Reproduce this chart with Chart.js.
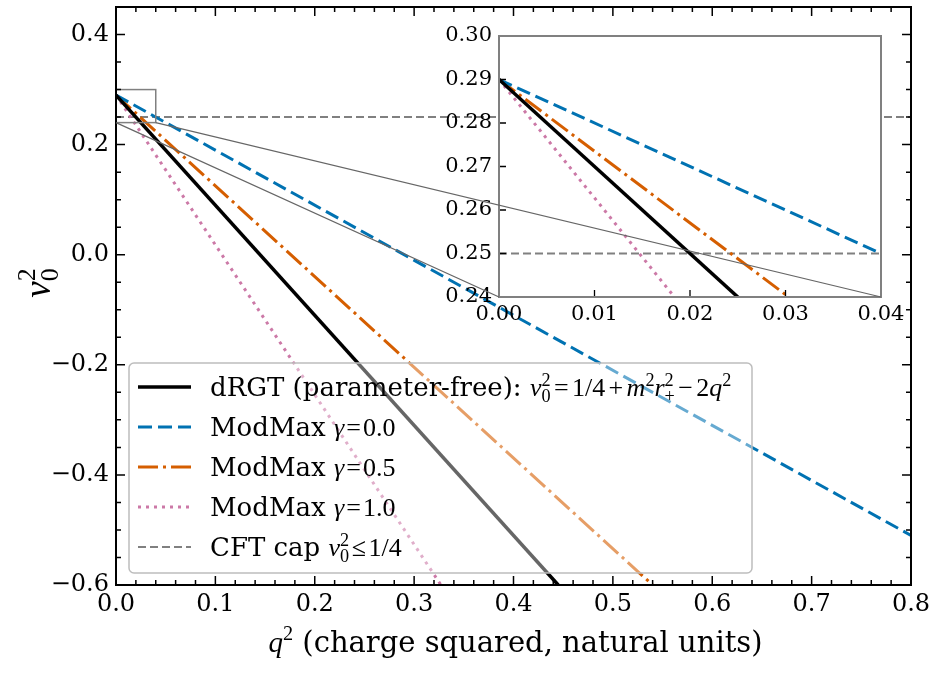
<!DOCTYPE html>
<html>
<head>
<meta charset="utf-8">
<script src="https://cdn.jsdelivr.net/npm/chart.js@4.4.1/dist/chart.umd.min.js"></script>
<style>
  body { margin: 0; background: #fff; }
  #wrap { position: relative; width: 934px; height: 697px; }
  #wrap canvas { position: absolute; left: 0; top: 0; }
</style>
</head>
<body>
<div id="wrap">
  <canvas id="main" width="934" height="697"></canvas>
  <canvas id="inset" width="934" height="697"></canvas>
</div>
<script>
// --- data (each curve is a straight line, so two end points) ---
const drgtQ = [0.0, 0.445];
const drgtNu = [0.29, -0.60];
const mm00Q = [0.0, 0.80];
const mm00Nu = [0.29, -0.51];
const mm05Q = [0.0, 0.54];
const mm05Nu = [0.29, -0.60];
const mm10Q = [0.0, 0.327];
const mm10Nu = [0.29, -0.60];
const cftQ = [0.0, 0.80];
const cftNu = [0.25, 0.25];

// axes
const mainXTicks = [0.0, 0.1, 0.2, 0.3, 0.4, 0.5, 0.6, 0.7, 0.8];
const mainYTicks = [-0.6, -0.4, -0.2, 0.0, 0.2, 0.4];
const insetXTicks = [0.0, 0.01, 0.02, 0.03, 0.04];
const insetYTicks = [0.24, 0.25, 0.26, 0.27, 0.28, 0.29, 0.30];
const zoomQ = [0.0, 0.04];
const zoomNu = [0.24, 0.30];

const SERIF = '"DejaVu Serif", serif';
const MATH = '"Liberation Serif", serif';   // stix-like math font

const styles = [
  { color: '#000000', width: 3.5, dash: [] },
  { color: '#0072B2', width: 3, dash: [14, 6] },
  { color: '#D55E00', width: 3, dash: [20, 5, 3, 5] },
  { color: '#CC79A7', width: 3, dash: [3, 5] },
  { color: '#808080', width: 2, dash: [8, 4] }
];

function pts(q, nu) {
  return q.map((v, i) => ({ x: v, y: nu[i] }));
}

function makeDatasets() {
  const series = [[drgtQ, drgtNu], [mm00Q, mm00Nu], [mm05Q, mm05Nu], [mm10Q, mm10Nu], [cftQ, cftNu]];
  return series.map((s, i) => ({
    data: pts(s[0], s[1]),
    showLine: true,
    borderColor: styles[i].color,
    borderWidth: styles[i].width,
    borderDash: styles[i].dash,
    borderCapStyle: 'butt',
    pointRadius: 0,
    fill: false
  }));
}

function fmt(v, d) {
  const s = Math.abs(v).toFixed(d);
  return v < -1e-9 ? '\u2212' + s : s;
}

// rich text: parts {t, m: math font, i: italic, s: 'sup'|'sub', stack: same x as previous, pad: em each side}
function drawRich(ctx, parts, x, y, size, draw) {
  let cx = x, prevStart = x;
  for (const p of parts) {
    const sz = p.s ? size * 0.7 : size;
    ctx.font = (p.i ? 'italic ' : '') + sz + 'px ' + (p.m ? MATH : SERIF);
    const w = ctx.measureText(p.t).width;
    const pad = (p.pad || 0) * size;
    const px = p.stack ? prevStart : cx + pad;
    const dy = p.s === 'sup' ? -0.4 * size : (p.s === 'sub' ? 0.22 * size : 0);
    if (draw) ctx.fillText(p.t, px, y + dy);
    if (p.stack) {
      cx = Math.max(cx, px + w);
    } else {
      prevStart = px;
      cx = px + w + pad;
    }
  }
  return cx - x;
}

const nu0sq = [{ t: '\u03bd', m: 1, i: 1 }, { t: '0', m: 1, s: 'sub' }, { t: '2', m: 1, s: 'sup', stack: 1 }];
const gammaEq = v => [{ t: 'ModMax ' }, { t: '\u03b3', m: 1, i: 1 }, { t: '=', m: 1, pad: 0.08 }, { t: v, m: 1 }];

const legendRows = [
  [{ t: 'dRGT (parameter-free): ' }, ...nu0sq,
   { t: '=', m: 1, pad: 0.13 }, { t: '1/4', m: 1 }, { t: '+', m: 1, pad: 0.13 }, { t: 'm', m: 1, i: 1 }, { t: '2', m: 1, s: 'sup' },
   { t: 'r', m: 1, i: 1 }, { t: '+', m: 1, s: 'sub' }, { t: '2', m: 1, s: 'sup', stack: 1 },
   { t: '\u2212', m: 1, pad: 0.13 }, { t: '2', m: 1 }, { t: 'q', m: 1, i: 1 }, { t: '2', m: 1, s: 'sup' }],
  gammaEq('0.0'),
  gammaEq('0.5'),
  gammaEq('1.0'),
  [{ t: 'CFT cap ' }, ...nu0sq, { t: '\u2264', m: 1, pad: 0.1 }, { t: '1/4', m: 1 }]
];

function roundRect(ctx, x, y, w, h, r) {
  ctx.beginPath();
  ctx.moveTo(x + r, y);
  ctx.arcTo(x + w, y, x + w, y + h, r);
  ctx.arcTo(x + w, y + h, x, y + h, r);
  ctx.arcTo(x, y + h, x, y, r);
  ctx.arcTo(x, y, x + w, y, r);
  ctx.closePath();
}

function drawLegend(chart) {
  const ctx = chart.ctx;
  ctx.save();
  roundRect(ctx, 129, 363, 623, 210, 5);
  ctx.fillStyle = 'rgba(255,255,255,0.4)';
  ctx.fill();
  ctx.strokeStyle = '#bdbdbd';
  ctx.lineWidth = 1.5;
  ctx.stroke();
  chart.data.datasets.forEach((ds, i) => {
    const yy = 387 + i * 40;
    ctx.beginPath();
    ctx.setLineDash(ds.borderDash);
    ctx.lineCap = 'butt';
    ctx.strokeStyle = ds.borderColor;
    ctx.lineWidth = ds.borderWidth;
    ctx.moveTo(138, yy);
    ctx.lineTo(191, yy);
    ctx.stroke();
    ctx.setLineDash([]);
    ctx.fillStyle = '#000';
    ctx.textBaseline = 'alphabetic';
    ctx.textAlign = 'left';
    drawRich(ctx, legendRows[i], 210, yy + 9, 26, true);
  });
  ctx.restore();
}

function tickLines(ctx, list) {
  ctx.beginPath();
  list.forEach(l => { ctx.moveTo(l[0], l[1]); ctx.lineTo(l[2], l[3]); });
  ctx.stroke();
}

const mainDecor = {
  id: 'mainDecor',
  afterDatasetsDraw(chart) {
    const { ctx, scales: { x, y } } = chart;
    ctx.save();
    ctx.strokeStyle = '#808080';
    ctx.lineWidth = 1.5;
    const x0 = x.getPixelForValue(zoomQ[0]), x1 = x.getPixelForValue(zoomQ[1]);
    const y0 = y.getPixelForValue(zoomNu[0]), y1 = y.getPixelForValue(zoomNu[1]);
    ctx.strokeRect(x0, y1, x1 - x0, y0 - y1);
    ctx.restore();
    drawLegend(chart);
  },
  afterDraw(chart) {
    const { ctx, chartArea: a, scales: { x, y } } = chart;
    ctx.save();
    ctx.strokeStyle = '#000';
    ctx.lineWidth = 1.5;
    const ticks = [];
    mainXTicks.forEach(v => {
      const p = x.getPixelForValue(v);
      ticks.push([p, a.bottom, p, a.bottom - 9], [p, a.top, p, a.top + 9]);
    });
    for (let k = 0; k <= 40; k++) {
      if (k % 5 === 0) continue;
      const p = x.getPixelForValue(k * 0.02);
      ticks.push([p, a.bottom, p, a.bottom - 5], [p, a.top, p, a.top + 5]);
    }
    mainYTicks.forEach(v => {
      const p = y.getPixelForValue(v);
      ticks.push([a.left, p, a.left + 9, p], [a.right, p, a.right - 9, p]);
    });
    for (let k = -12; k <= 9; k++) {
      if (k % 4 === 0) continue;
      const p = y.getPixelForValue(k * 0.05);
      ticks.push([a.left, p, a.left + 5, p], [a.right, p, a.right - 5, p]);
    }
    tickLines(ctx, ticks);
    ctx.lineWidth = 2;
    ctx.strokeRect(a.left, a.top, a.right - a.left, a.bottom - a.top);

    // axis titles
    ctx.fillStyle = '#000';
    ctx.textBaseline = 'alphabetic';
    ctx.textAlign = 'left';
    const xt = [{ t: 'q', m: 1, i: 1 }, { t: '2', m: 1, s: 'sup' }, { t: ' (charge squared, natural units)' }];
    const xw = drawRich(ctx, xt, 0, 0, 29, false);
    drawRich(ctx, xt, (a.left + a.right) / 2 - xw / 2 + 2, 652, 29, true);
    const yw = drawRich(ctx, nu0sq, 0, 0, 37, false);
    ctx.translate(50, 283);
    ctx.rotate(-Math.PI / 2);
    drawRich(ctx, nu0sq, -yw / 2, 0, 37, true);
    ctx.restore();
  }
};

const mainChart = new Chart(document.getElementById('main'), {
  type: 'scatter',
  data: { datasets: makeDatasets() },
  options: {
    responsive: false,
    animation: false,
    devicePixelRatio: 1,
    layout: { padding: { top: 7, right: 23, left: 0, bottom: 0 } },
    plugins: { legend: { display: false }, tooltip: { enabled: false } },
    scales: {
      x: {
        type: 'linear', min: 0, max: 0.8,
        afterBuildTicks: s => { s.ticks = mainXTicks.map(v => ({ value: v })); },
        afterFit: s => { s.height = 112; s.paddingLeft = 0; s.paddingRight = 0; },
        grid: { display: false, drawTicks: false },
        border: { display: false },
        ticks: { font: { family: SERIF, size: 24 }, color: '#000', padding: 5, maxRotation: 0, autoSkip: false,
                 callback: v => fmt(v, 1) }
      },
      y: {
        type: 'linear', min: -0.6, max: 0.45,
        afterBuildTicks: s => { s.ticks = mainYTicks.map(v => ({ value: v })); },
        afterFit: s => { s.width = 116; s.paddingTop = 0; s.paddingBottom = 0; },
        grid: { display: false, drawTicks: false },
        border: { display: false },
        ticks: { font: { family: SERIF, size: 24 }, color: '#000', padding: 7, autoSkip: false,
                 callback: v => fmt(v, 1) }
      }
    }
  },
  plugins: [mainDecor]
});

const insetDecor = {
  id: 'insetDecor',
  beforeDatasetsDraw(chart) {
    const { ctx, chartArea: a } = chart;
    ctx.save();
    ctx.fillStyle = '#fff';
    ctx.fillRect(a.left, a.top, a.right - a.left, a.bottom - a.top);
    ctx.restore();
  },
  afterDraw(chart) {
    const { ctx, chartArea: a, scales: { x, y } } = chart;
    ctx.save();
    ctx.strokeStyle = '#000';
    ctx.lineWidth = 1.3;
    const ticks = [];
    insetXTicks.forEach(v => { const p = x.getPixelForValue(v); ticks.push([p, a.bottom, p, a.bottom - 7]); });
    insetYTicks.forEach(v => { const p = y.getPixelForValue(v); ticks.push([a.left, p, a.left + 7, p]); });
    tickLines(ctx, ticks);
    ctx.strokeStyle = '#808080';
    ctx.lineWidth = 2;
    ctx.strokeRect(a.left, a.top, a.right - a.left, a.bottom - a.top);

    // connectors from the zoom box in the main axes to the inset corners
    const mx = mainChart.scales.x, my = mainChart.scales.y;
    ctx.strokeStyle = '#666';
    ctx.lineWidth = 1.2;
    ctx.beginPath();
    ctx.moveTo(mx.getPixelForValue(zoomQ[0]), my.getPixelForValue(zoomNu[0]));
    ctx.lineTo(x.getPixelForValue(zoomQ[0]), y.getPixelForValue(zoomNu[0]));
    ctx.moveTo(mx.getPixelForValue(zoomQ[1]), my.getPixelForValue(zoomNu[0]));
    ctx.lineTo(x.getPixelForValue(zoomQ[1]), y.getPixelForValue(zoomNu[0]));
    ctx.stroke();
    ctx.restore();
  }
};

new Chart(document.getElementById('inset'), {
  type: 'scatter',
  data: { datasets: makeDatasets() },
  options: {
    responsive: false,
    animation: false,
    devicePixelRatio: 1,
    layout: { padding: { top: 36, right: 53, left: 0, bottom: 0 } },
    plugins: { legend: { display: false }, tooltip: { enabled: false } },
    scales: {
      x: {
        type: 'linear', min: 0, max: 0.04,
        afterBuildTicks: s => { s.ticks = insetXTicks.map(v => ({ value: v })); },
        afterFit: s => { s.height = 400; s.paddingLeft = 0; s.paddingRight = 0; },
        grid: { display: false, drawTicks: false },
        border: { display: false },
        ticks: { font: { family: SERIF, size: 21 }, color: '#000', padding: 5, maxRotation: 0, autoSkip: false,
                 callback: v => fmt(v, 2) }
      },
      y: {
        type: 'linear', min: 0.24, max: 0.30,
        afterBuildTicks: s => { s.ticks = insetYTicks.map(v => ({ value: v })); },
        afterFit: s => { s.width = 499; s.paddingTop = 0; s.paddingBottom = 0; },
        grid: { display: false, drawTicks: false },
        border: { display: false },
        ticks: { font: { family: SERIF, size: 21 }, color: '#000', padding: 7, autoSkip: false,
                 callback: v => fmt(v, 2) }
      }
    }
  },
  plugins: [insetDecor]
});
</script>
</body>
</html>
